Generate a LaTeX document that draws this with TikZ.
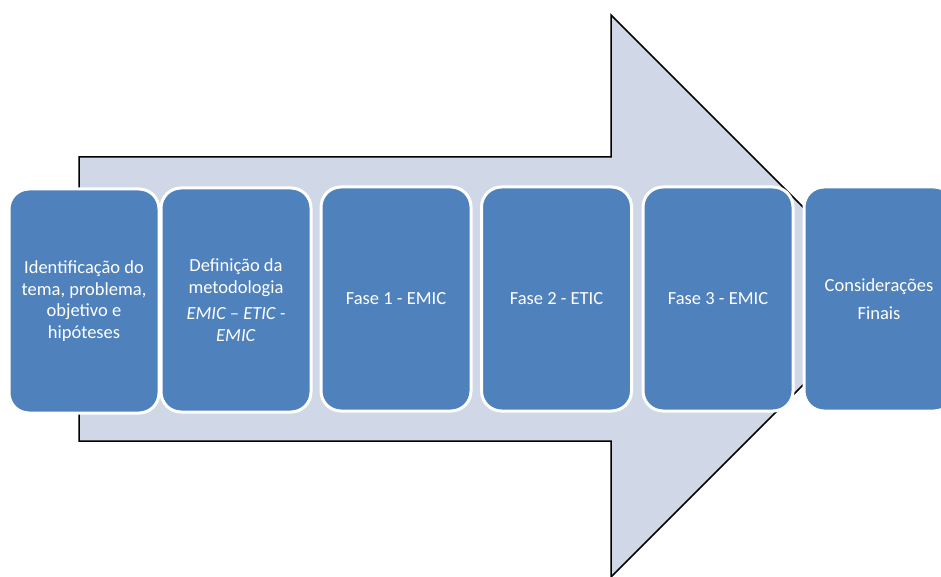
\documentclass[tikz,border=0pt]{standalone}
\usepackage{fontspec}
\setmainfont{Carlito}
\usetikzlibrary{positioning}
\definecolor{PhaseBlue}{HTML}{4F81BD}
\definecolor{ArrowTint}{HTML}{D0D8E8}

\begin{document}
\begin{tikzpicture}[
      x=1pt,y=-1pt,
      pstep/.style={draw=white,line width=3pt,rounded corners=20pt,
                    fill=PhaseBlue,text=white,align=center,
                    minimum width=150pt,minimum height=224pt,inner sep=2pt,
                    font=\fontsize{18.5}{21.5}\selectfont},
      bigarrow/.style={fill=ArrowTint,draw=black,line width=1.5pt,line join=miter},
    ]
    \useasboundingbox (0,0) rectangle (941,577);
    \clip (0,0) rectangle (941,577);

    % large background arrow
    \draw[bigarrow] (79,157) -- (611,157) -- (611,15) -- (892,296)
      -- (611,577) -- (611,441) -- (79,441) -- cycle;

    % phases
    \node[pstep] (ident) at (84,301)
      {Identificação do\\tema, problema,\\objetivo e\\hipóteses};
    \node[pstep] (metod) at (236,300)
      {Definição da\\metodologia\\[5pt]\textit{EMIC – ETIC -}\\\textit{EMIC}};
    \node[pstep] (fase1) at (396,299) {Fase 1 - EMIC};
    \node[pstep] (fase2) at (556.5,299) {Fase 2 - ETIC};
    \node[pstep] (fase3) at (718,299) {Fase 3 - EMIC};
    \node[pstep,font=\fontsize{18.5}{28}\selectfont] (consid) at (879,299)
      {Considerações\\Finais};
  \end{tikzpicture}
\end{document}
